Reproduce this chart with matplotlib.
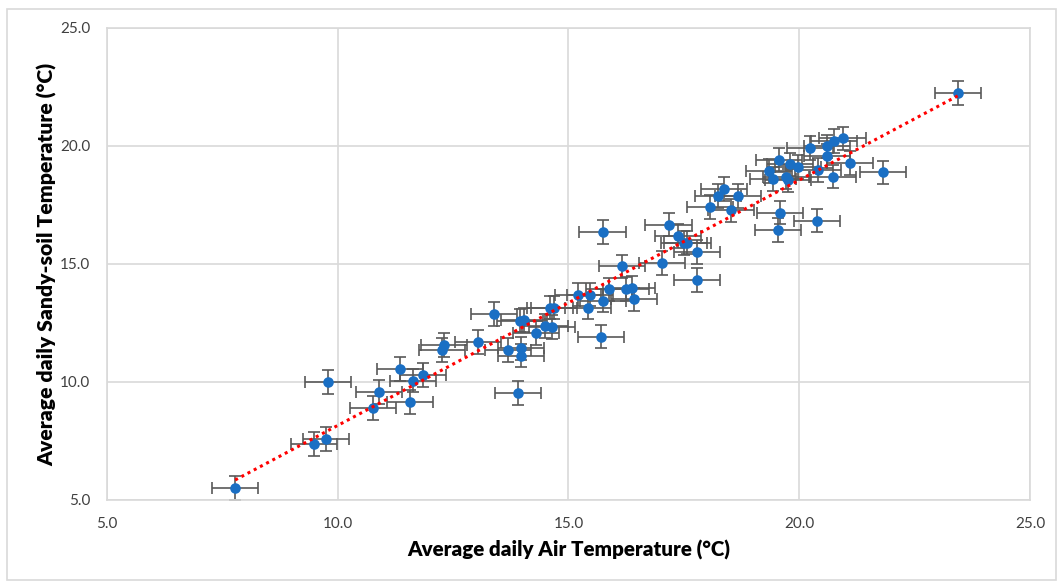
import numpy as np
import matplotlib.pyplot as plt
from matplotlib.patches import Rectangle

# average daily air temperature (x) and sandy-soil temperature (y), degC
air_temp = [7.78, 9.49, 9.74, 9.79, 10.77, 10.90, 11.35, 11.56, 11.64, 11.85,
            12.27, 12.30, 13.04, 13.39, 13.70, 13.98, 13.98, 13.90, 13.96, 14.04,
            14.30, 14.50, 14.64, 14.60, 14.68, 15.20, 15.42, 15.46, 15.75, 15.88,
            16.25, 16.37, 16.43, 15.70, 15.74, 16.16, 17.03, 17.17, 17.38, 17.50,
            17.58, 17.79, 17.79, 18.07, 18.24, 18.37, 18.67, 18.52, 19.58, 19.54,
            20.38, 19.35, 19.43, 19.56, 19.72, 19.75, 19.80, 19.97, 20.40, 20.24,
            20.60, 20.60, 20.75, 20.94, 20.73, 21.11, 21.81, 23.44]
soil_temp = [5.50, 7.37, 7.58, 10.00, 8.90, 9.58, 10.55, 9.15, 10.06, 10.30,
             11.36, 11.57, 11.70, 12.88, 11.36, 11.42, 11.12, 9.53, 12.60, 12.62,
             12.07, 12.36, 12.34, 13.15, 13.15, 13.70, 13.15, 13.70, 13.45, 13.92,
             13.94, 13.98, 13.50, 11.92, 16.36, 14.90, 15.04, 16.67, 16.19, 15.89,
             15.91, 15.50, 14.32, 17.42, 17.87, 18.18, 17.88, 17.27, 17.18, 16.44,
             16.84, 18.94, 18.60, 19.40, 18.69, 18.54, 19.22, 19.10, 18.98, 19.92,
             19.98, 19.58, 20.20, 20.32, 18.70, 19.28, 18.88, 22.25]
err = 0.5  # +/- error on both axes

ticks = [5.0, 10.0, 15.0, 20.0, 25.0]

x = np.array(air_temp)
y = np.array(soil_temp)

fig = plt.figure(figsize=(10.58, 5.83), dpi=100)
ax = fig.add_axes([0.101, 0.1424, 0.8725, 0.8096])

# outer chart border
fig.patches.append(Rectangle((7 / 1058, 1 - 580 / 583), 1049 / 1058, 571 / 583,
                             transform=fig.transFigure, fill=False,
                             edgecolor='#d9d9d9', linewidth=1.2))

ax.errorbar(x, y, xerr=err, yerr=err, fmt='none', ecolor='#595959',
            elinewidth=1.2, capsize=4, capthick=1.2, zorder=2)
ax.scatter(x, y, s=58, color='#1a6fc4', zorder=3, linewidths=0)

# linear trendline
k, b = np.polyfit(x, y, 1)
xs = np.array([x.min(), x.max()])
ax.plot(xs, k * xs + b, color='red', linestyle=(0, (1, 1.3)), linewidth=2.2, zorder=4)

ax.set_xlim(5, 25)
ax.set_ylim(5, 25)
ax.set_xticks(ticks)
ax.set_yticks(ticks)
ax.set_xticklabels([f'{t:.1f}' for t in ticks])
ax.set_yticklabels([f'{t:.1f}' for t in ticks])
ax.tick_params(length=0, labelsize=11, labelcolor='#404040', pad=12)
ax.grid(True, color='#d9d9d9', linewidth=1.2)
ax.set_axisbelow(True)
for s in ax.spines.values():
    s.set_color('#d9d9d9')
    s.set_linewidth(1.2)

ax.set_xlabel('Average daily Air Temperature (°C)', fontsize=14.8, fontweight='heavy',
              family='Lato', labelpad=7)
ax.set_ylabel('Average daily Sandy-soil Temperature (°C)', fontsize=15.2,
              fontweight='heavy', family='Lato', labelpad=2)
for lab in ax.get_xticklabels() + ax.get_yticklabels():
    lab.set_family('Lato')

plt.savefig('out.png', dpi=100)
